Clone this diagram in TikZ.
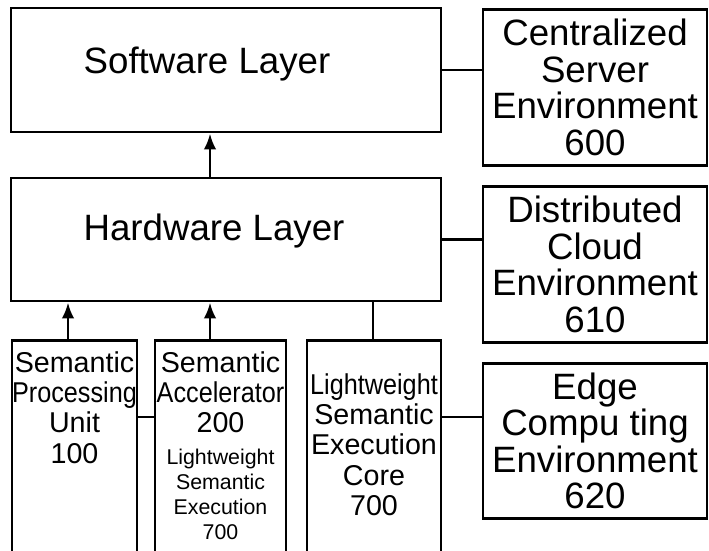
\documentclass[tikz,border=0pt]{standalone}
\usepackage{fontspec}
\setmainfont{Liberation Sans}
\usepackage{graphicx}
\usetikzlibrary{%
  arrows.meta,%
  positioning,% wg. " of "
  calc%
}
\newcommand{\squeezed}[1]{\scalebox{.88}[1]{#1}}

\begin{document}
\begin{tikzpicture}
  [
  x=0.75pt, y=0.75pt,
  line width=2.2pt, draw=black,
  arr/.style={-{Latex[length=12pt,width=9.5pt,fill=black]}},
  box/.style={rectangle, draw=black, line width=2.2pt, inner sep=0pt},
  envbox/.style={box, minimum width=168pt, minimum height=116.5pt, align=center, font=\fontsize{27.5}{27.4}\selectfont},
  bigtext/.style={inner sep=0pt, font=\fontsize{27.5}{27.4}\selectfont},
  midtext/.style={inner sep=0pt, align=center, font=\fontsize{21.5}{22.7}\selectfont},
  smalltext/.style={inner sep=0pt, align=center, font=\fontsize{16}{18.75}\selectfont}
  ]

  \useasboundingbox (0,0) rectangle (709,-550);
  \clip (0,0) rectangle (709,-550);

  % layers
  \node[box, minimum width=322.5pt, minimum height=93pt] (sw) at (226,-70) {};
  \node[bigtext] (swtext) at (207,-64) {Software Layer};
  \node[box, minimum width=322.5pt, minimum height=92.25pt] (hw) at (226,-239.5) {};
  \node[bigtext] (hwtext) at (214,-231) {Hardware Layer};

  % environments
  \node[envbox] (cse) at (595,-87.5) {Centralized\\Server\\Environment\\600};
  \node[envbox] (dce) at (595,-264.5) {Distributed\\Cloud\\Environment\\610};
  \node[envbox] (ece) at (595,-441) {Edge\\Compu ting\\Environment\\620};

  % hardware units
  \node[box, minimum width=93.75pt, minimum height=173.25pt, anchor=north] (spu) at (74.5,-339) {};
  \node[box, minimum width=98.25pt, minimum height=173.25pt, anchor=north] (acc) at (220.5,-339) {};
  \node[box, minimum width=100.5pt, minimum height=173.25pt, anchor=north] (core) at (374,-339) {};

  \node[midtext, anchor=north] (sputext) at (74.5,-350) {Semantic\\\squeezed{Processing}\\Unit\\100};
  \node[midtext, anchor=north] (acctext) at (220.5,-350) {Semantic\\\squeezed{Accelerator}\\200};
  \node[smalltext, anchor=north] (accsub) at (220.5,-448) {Lightweight\\Semantic\\Execution\\700};
  \node[midtext, anchor=north] (coretext) at (374,-372) {\squeezed{Lightweight}\\Semantic\\Execution\\Core\\700};

  \draw[arr] (hw.north) ++(-16,0) coordinate (a0) -- (a0 |- sw.south);
  \draw[arr] (spu.north) ++(-6.5,0) coordinate (a1) -- (a1 |- hw.south);
  \draw[arr] (acc.north) ++(-10.5,0) coordinate (a2) -- (a2 |- hw.south);
  \draw (core.north) ++(-1,0) coordinate (a3) -- (a3 |- hw.south);

  \draw (sw.east) -- (sw.east -| cse.west);
  \draw (hw.east) -- (hw.east -| dce.west);
  \draw (spu.north east) ++(0,-78) coordinate (l1) -- (l1 -| acc.west);
  \draw (core.north east) ++(0,-78) coordinate (l2) -- (l2 -| ece.west);
\end{tikzpicture}
\end{document}
